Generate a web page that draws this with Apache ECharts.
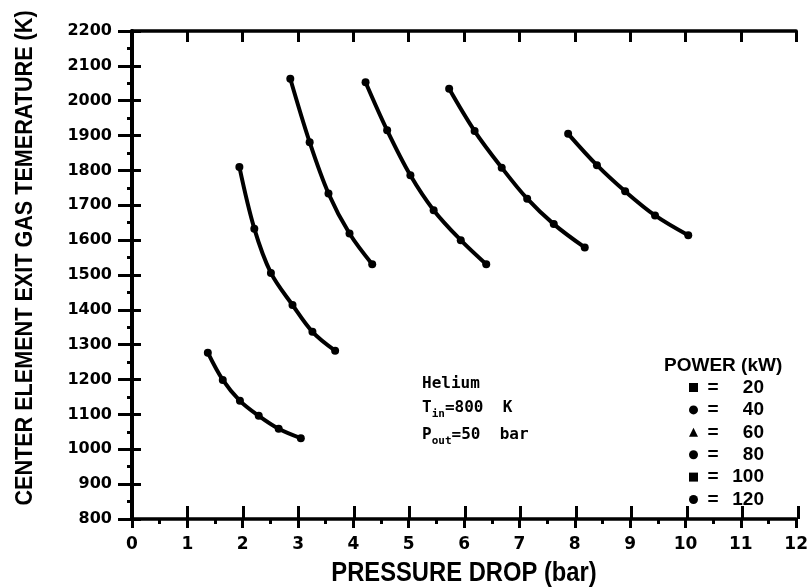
<!DOCTYPE html>
<html>
<head>
<meta charset="utf-8">
<script src="https://cdn.jsdelivr.net/npm/echarts@6/dist/echarts.min.js"></script>
<style>html,body{margin:0;padding:0;background:#fff}#c{width:811px;height:588px}</style>
</head>
<body>
<div id="c"></div>
<script>
// Power levels (kW)
const powers = ['20', '40', '60', '80', '100', '120'];
const legendIcons = ['rect', 'circle', 'triangle', 'circle', 'rect', 'circle'];

// Pressure drop (bar) and exit gas temperature (K) for each power
const dp20  = [1.37, 1.64, 1.95, 2.29, 2.65, 3.05];
const t20   = [1277, 1199, 1139, 1096, 1059, 1032];
const dp40  = [1.94, 2.21, 2.51, 2.90, 3.26, 3.67];
const t40   = [1810, 1633, 1506, 1414, 1337, 1283];
const dp60  = [2.86, 3.21, 3.55, 3.93, 4.34];
const t60   = [2063, 1881, 1734, 1619, 1531];
const dp80  = [4.22, 4.61, 5.03, 5.45, 5.94, 6.40];
const t80   = [2053, 1915, 1786, 1686, 1600, 1531];
const dp100 = [5.73, 6.19, 6.68, 7.14, 7.62, 8.18];
const t100  = [2034, 1913, 1808, 1719, 1646, 1579];
const dp120 = [7.88, 8.40, 8.91, 9.45, 10.05];
const t120  = [1905, 1815, 1740, 1671, 1614];

const xs = [dp20, dp40, dp60, dp80, dp100, dp120];
const ys = [t20, t40, t60, t80, t100, t120];

const FONT = "'DejaVu Sans', sans-serif";
const LIB = "'Liberation Sans', Arial, sans-serif";

const chart = echarts.init(document.getElementById('c'));

const gridRect = { left: 132, right: 13, top: 31, bottom: 69 };

const series = powers.map((p, i) => ({
  name: p,
  type: 'line',
  xAxisIndex: 0,
  yAxisIndex: 0,
  smooth: 0.35,
  symbol: 'circle',
  symbolSize: 8,
  itemStyle: { color: '#000' },
  lineStyle: { color: '#000', width: 4 },
  data: xs[i].map((x, k) => [x, ys[i][k]]),
  z: 5
}));

const subRich = {
  a: { font: "bold 16px 'DejaVu Sans Mono', monospace", fill: '#000', verticalAlign: 'bottom' },
  s: { font: "bold 11px 'DejaVu Sans Mono', monospace", fill: '#000', verticalAlign: 'bottom', padding: [0, 0, -4, 0] }
};

chart.setOption({
  animation: false,
  backgroundColor: '#fff',
  grid: [Object.assign({}, gridRect), Object.assign({}, gridRect)],
  xAxis: [
    {
      gridIndex: 0, type: 'value', position: 'bottom', min: 0, max: 12, interval: 1,
      axisLine: { lineStyle: { color: '#000', width: 3.5 } },
      axisTick: { inside: false, length: 9, lineStyle: { color: '#000', width: 3 } },
      minorTick: { show: true, splitNumber: 2, length: 5, lineStyle: { color: '#000', width: 3 } },
      axisLabel: { color: '#000', fontFamily: FONT, fontWeight: 'bold', fontSize: 17, margin: 17 },
      splitLine: { show: false }
    },
    {
      gridIndex: 0, type: 'value', position: 'top', min: 0, max: 12, interval: 1,
      axisLine: { lineStyle: { color: '#000', width: 3.5 } },
      axisTick: { inside: true, length: 11, lineStyle: { color: '#000', width: 3 } },
      axisLabel: { show: false },
      splitLine: { show: false }
    },
    {
      gridIndex: 1, type: 'value', position: 'bottom', min: 0, max: 12, interval: 1,
      axisLine: { show: false },
      axisTick: { inside: true, length: 13, lineStyle: { color: '#000', width: 3 } },
      axisLabel: { show: false },
      splitLine: { show: false }
    }
  ],
  yAxis: [
    {
      gridIndex: 0, type: 'value', position: 'left', min: 800, max: 2200, interval: 100,
      axisLine: { lineStyle: { color: '#000', width: 3.5 } },
      axisTick: { inside: false, length: 14, lineStyle: { color: '#000', width: 3 } },
      minorTick: { show: true, splitNumber: 2, length: 5, lineStyle: { color: '#000', width: 3 } },
      axisLabel: { color: '#000', fontFamily: FONT, fontWeight: 'bold', fontSize: 16, margin: 20,
                   formatter: v => String(v) },
      splitLine: { show: false }
    },
    {
      gridIndex: 0, type: 'value', position: 'right', min: 800, max: 2200, interval: 100,
      axisLine: { lineStyle: { color: '#000', width: 4 } },
      axisTick: { inside: true, length: 12, lineStyle: { color: '#000', width: 3 } },
      axisLabel: { show: false },
      splitLine: { show: false }
    },
    {
      gridIndex: 1, type: 'value', position: 'left', min: 800, max: 2200, interval: 100,
      axisLine: { show: false },
      axisTick: { inside: true, length: 9, lineStyle: { color: '#000', width: 3 } },
      axisLabel: { show: false },
      splitLine: { show: false }
    }
  ],
  legend: {
    orient: 'vertical',
    left: 684,
    top: 373,
    itemWidth: 9,
    itemHeight: 9,
    itemGap: 3.4,
    data: powers.map((p, i) => ({ name: p, icon: legendIcons[i] })),
    formatter: name => '{e|=}{n|' + name + '}',
    textStyle: {
      color: '#000',
      fontFamily: LIB,
      fontWeight: 'bold',
      fontSize: 19,
      rich: {
        e: { fontFamily: LIB, fontWeight: 'bold', fontSize: 19, width: 20, align: 'center', color: '#000' },
        n: { fontFamily: LIB, fontWeight: 'bold', fontSize: 19, width: 41, align: 'right', color: '#000' }
      }
    },
    itemStyle: { color: '#000' }
  },
  graphic: [
    {
      type: 'text', left: 664, top: 356,
      style: { text: 'POWER (kW)', font: "bold 19px " + LIB, fill: '#000' }
    },
    {
      type: 'text', x: 25, y: 258, rotation: Math.PI / 2, scaleX: 0.9,
      style: {
        text: 'CENTER ELEMENT EXIT GAS TEMERATURE (K)',
        font: "bold 24px " + LIB, fill: '#000',
        textAlign: 'center', textVerticalAlign: 'middle'
      }
    },
    {
      type: 'text', x: 464, y: 574, scaleX: 0.88,
      style: {
        text: 'PRESSURE DROP (bar)',
        font: "bold 27px " + LIB, fill: '#000',
        textAlign: 'center', textVerticalAlign: 'middle'
      }
    },
    {
      type: 'text', left: 422, top: 376,
      style: { text: 'Helium', font: "bold 16px 'DejaVu Sans Mono', monospace", fill: '#000' }
    },
    {
      type: 'text', left: 422, top: 400,
      style: { text: '{a|T}{s|in}{a|=800  K}', rich: subRich }
    },
    {
      type: 'text', left: 422, top: 427,
      style: { text: '{a|P}{s|out}{a|=50  bar}', rich: subRich }
    }
  ],
  series: series
});
</script>
</body>
</html>
